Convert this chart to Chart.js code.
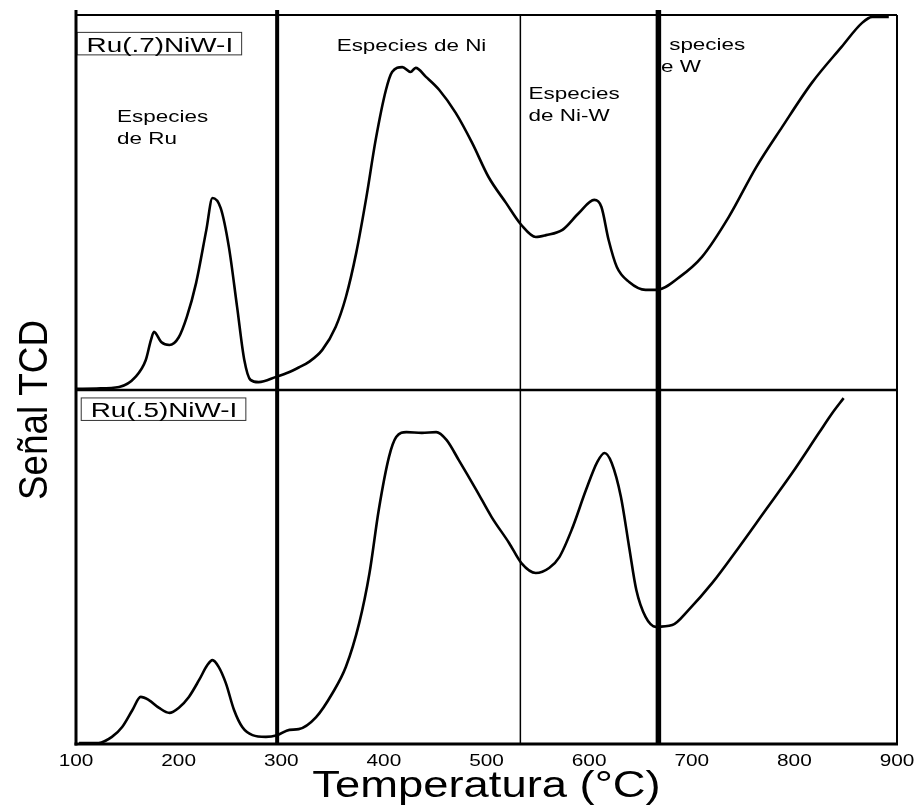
<!DOCTYPE html>
<html>
<head>
<meta charset="utf-8">
<script src="https://cdn.jsdelivr.net/npm/chart.js@4.4.0/dist/chart.umd.min.js"></script>
<style>
  html, body { margin: 0; padding: 0; background: #fff; }
</style>
</head>
<body>
<canvas id="tprChart" width="922" height="805"></canvas>
<script>
// TPR traces (temperature in °C, signal in % of panel height)
const tempTop = [100, 120, 142, 158, 168, 173, 176, 183, 191, 200, 208, 217, 227, 233, 241, 249, 257, 264, 270, 278,
  295, 308, 317, 327, 340, 353, 363, 373, 383, 392, 402, 408, 418, 426, 431, 441, 454, 470, 486, 502,
  519, 534, 548, 558, 574, 590, 605, 612, 619, 627, 639, 655, 666, 688, 710, 736, 763, 788, 817, 846,
  866, 876, 892];
const signalTop = [0.3, 0.4, 0.8, 3.5, 8, 13.3, 15.5, 12.8, 12, 14, 19.5, 28.5, 42.7, 51.2, 48.5, 38.1, 22.1, 8, 2.7, 2.1,
  3.5, 4.8, 6, 7.5, 10.7, 16.8, 24.8, 36.5, 51.5, 66.7, 80, 84.8, 86.1, 84.8, 85.9, 83.5, 80, 73.9, 65.9, 56.8,
  49.9, 44, 40.8, 41.3, 42.7, 47.2, 50.7, 48.8, 40, 32.8, 28.8, 26.7, 26.7, 30.1, 35.5, 46.1, 59.5, 70.1, 81.9, 91.5,
  97.9, 99.5, 99.5];

const tempBottom = [103, 122, 135, 145, 155, 163, 171, 181, 191, 200, 210, 220, 228, 233, 239, 246, 254, 262, 272, 285,
  296, 308, 317, 334, 350, 363, 376, 386, 395, 405, 412, 422, 437, 451, 461, 473, 490, 505, 522, 534,
  548, 561, 571, 583, 597, 608, 615, 622, 631, 639, 646, 655, 665, 681, 697, 720, 746, 772, 798, 824,
  837, 848];
const signalBottom = [0.3, 0.3, 2, 4.8, 9.6, 13.3, 12.4, 10.2, 8.8, 10.2, 13.3, 18.1, 22.3, 23.7, 21.8, 17.2, 9.6, 4.8, 2.5, 2,
  2.5, 4, 4.2, 7.6, 14.4, 21.8, 34.2, 48.3, 66.1, 81.1, 86.7, 88.1, 87.9, 88.1, 85.9, 80.2, 71.8, 64.1, 56.8, 51.1,
  48.3, 49.7, 52.8, 60.5, 71.8, 79.7, 82.2, 79.4, 69.8, 55.6, 43.5, 35.9, 33.1, 33.6, 37.9, 45.5, 55.6, 66.1, 76.6, 87.9,
  93.5, 97.7];

const xTicks = [100, 200, 300, 400, 500, 600, 700, 800, 900];
const sampleNames = ['Ru(.7)NiW-I', 'Ru(.5)NiW-I'];
// boundaries between reduction zones
const zoneLimits = [296, 533, 667.5];

// text notes, placed in data coordinates of the upper panel
const notes = [
  { lines: ['Especies', 'de Ru'], x: 140, y: 71.5 },
  { lines: ['Especies de Ni'], x: 354, y: 90.4 },
  { lines: ['Especies', 'de Ni-W'], x: 541, y: 77.6 },
  { lines: ['species'], x: 678, y: 90.7 },
  { lines: ['e W'], x: 670, y: 84.8 }
];
const zoneWidths = [4, 1.5, 5.5];
const FONT = '"Liberation Sans", Arial, Helvetica, sans-serif';

const toPoints = (xs, ys) => xs.map((x, i) => ({ x: x, y: ys[i] }));

// the source picture is wider than tall, so its text comes out stretched sideways
const drawStretched = (ctx, str, px, py, size, sx, align) => {
  ctx.save();
  ctx.font = size + 'px ' + FONT;
  const w = ctx.measureText(str).width * sx;
  const shift = align === 'center' ? -w / 2 : 0;
  ctx.translate(px + shift, py);
  ctx.scale(sx, 1);
  ctx.textBaseline = 'alphabetic';
  ctx.textAlign = 'left';
  ctx.fillStyle = '#000';
  ctx.fillText(str, 0, 0);
  ctx.restore();
  return w;
};

const line = (ctx, x1, y1, x2, y2, w) => {
  ctx.beginPath();
  ctx.lineWidth = w;
  ctx.moveTo(x1, y1);
  ctx.lineTo(x2, y2);
  ctx.stroke();
};

// frame, zone lines, tick labels and all the hand-placed text
const framePlugin = {
  id: 'frame',
  afterDatasetsDraw(chart) {
    const { ctx, chartArea: a, scales } = chart;
    const x = scales.x, yTop = scales.yTop, yBottom = scales.yBottom;
    ctx.save();
    ctx.strokeStyle = '#000';
    ctx.lineCap = 'butt';

    // notes first so the zone lines sit over them
    notes.forEach(n => {
      const px = x.getPixelForValue(n.x);
      const py = yTop.getPixelForValue(n.y);
      n.lines.forEach((t, i) => drawStretched(ctx, t, px, py + i * 22, 16.5, 1.36));
    });

    // sample name boxes
    const boxes = [
      { name: sampleNames[0], x: 100.5, y: 95.5, scale: yTop },
      { name: sampleNames[1], x: 104.6, y: 97.9, scale: yBottom }
    ];
    boxes.forEach(b => {
      const bx = x.getPixelForValue(b.x);
      const by = b.scale.getPixelForValue(b.y);
      ctx.font = '20.5px ' + FONT;
      const w = ctx.measureText(b.name).width * 1.36;
      ctx.fillStyle = '#fff';
      ctx.fillRect(bx, by, w + 18, 22.5);
      ctx.strokeStyle = '#333';
      ctx.lineWidth = 1;
      ctx.strokeRect(bx + 0.5, by + 0.5, w + 18, 22.5);
      drawStretched(ctx, b.name, bx + 10, by + 20, 20.5, 1.36);
    });

    ctx.strokeStyle = '#000';
    // zone boundaries
    zoneLimits.forEach((t, i) => {
      const px = x.getPixelForValue(t);
      line(ctx, px, i === 1 ? a.top : a.top - 5, px, a.bottom, zoneWidths[i]);
    });

    // panel frame
    line(ctx, a.left, a.top, a.right, a.top, 2);
    line(ctx, a.left, yTop.bottom, a.right, yTop.bottom, 2.5);
    line(ctx, a.right, a.top, a.right, a.bottom, 2);
    line(ctx, a.left, a.top - 5, a.left, a.bottom + 1.5, 3);
    line(ctx, a.left - 1.5, a.bottom, a.right + 1, a.bottom, 3);

    // x tick labels, placed by the x scale
    x.ticks.forEach(t => {
      drawStretched(ctx, String(t.value), x.getPixelForValue(t.value), a.bottom + 22, 16, 1.3, 'center');
    });

    // axis titles
    drawStretched(ctx, 'Temperatura (°C)', (a.left + a.right) / 2, 797, 36, 1.26, 'center');

    ctx.save();
    ctx.translate(47, 410);
    ctx.rotate(-Math.PI / 2);
    drawStretched(ctx, 'Señal TCD', 0, 0, 40, 0.92, 'center');
    ctx.restore();

    ctx.restore();
  }
};

const hiddenY = (stack, weight) => ({
  type: 'linear',
  position: 'left',
  stack: stack,
  stackWeight: weight,
  min: 0,
  max: 100,
  ticks: { display: false },
  grid: { display: false },
  border: { display: false },
  afterFit: s => { s.width = 0; }
});

const ctx = document.getElementById('tprChart').getContext('2d');
new Chart(ctx, {
  type: 'line',
  data: {
    datasets: [
      {
        label: sampleNames[0],
        data: toPoints(tempTop, signalTop),
        yAxisID: 'yTop',
        borderColor: '#000',
        borderWidth: 2.6,
        pointRadius: 0,
        cubicInterpolationMode: 'monotone'
      },
      {
        label: sampleNames[1],
        data: toPoints(tempBottom, signalBottom),
        yAxisID: 'yBottom',
        borderColor: '#000',
        borderWidth: 2.6,
        pointRadius: 0,
        cubicInterpolationMode: 'monotone'
      }
    ]
  },
  options: {
    responsive: false,
    animation: false,
    devicePixelRatio: 1,
    layout: { padding: { left: 76, right: 25, top: 15, bottom: 0 } },
    plugins: {
      legend: { display: false },
      tooltip: { enabled: false }
    },
    scales: {
      x: {
        type: 'linear',
        min: 100,
        max: 900,
        afterBuildTicks: s => { s.ticks = xTicks.map(v => ({ value: v })); },
        ticks: { display: false },
        grid: { display: false, drawTicks: false },
        border: { display: false },
        afterFit: s => { s.height = 61; }
      },
      yBottom: hiddenY('tcd', 354),
      yTop: hiddenY('tcd', 375)
    }
  },
  plugins: [framePlugin]
});
</script>
</body>
</html>
